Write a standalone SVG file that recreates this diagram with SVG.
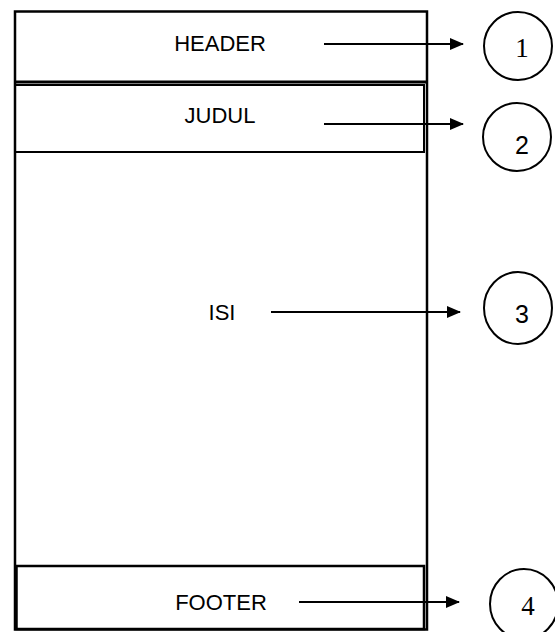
<svg xmlns="http://www.w3.org/2000/svg" width="555" height="632" viewBox="0 0 555 632">
<style>
.box{fill:none;stroke:#000}
.lbl{font-family:"Liberation Sans",Arial,sans-serif;font-size:22px;fill:#000;text-anchor:middle}
.ser{font-family:"Liberation Serif","Times New Roman",serif;font-size:27px;fill:#000;text-anchor:middle}
.san{font-family:"Liberation Sans",Arial,sans-serif;font-size:25px;fill:#000;text-anchor:middle}
.circ{fill:none;stroke:#000;stroke-width:2}
.conn{stroke:#000;stroke-width:2;fill:none;marker-end:url(#ah)}
</style>
<defs>
<marker id="ah" markerWidth="14" markerHeight="12" refX="13" refY="6" orient="auto" markerUnits="userSpaceOnUse">
<path d="M0,0 L14,6 L0,12 z" fill="#000"/>
</marker>
</defs>
<rect width="555" height="632" fill="#fff"/>
<g id="page">
<rect class="box" x="15" y="11.5" width="412" height="618" stroke-width="2.5"/>
</g>
<g id="header">
<line x1="15" y1="82" x2="427" y2="82" stroke="#000" stroke-width="3"/>
<text class="lbl" x="220" y="51">HEADER</text>
</g>
<g id="judul">
<rect class="box" x="15" y="85" width="409" height="67" stroke-width="2"/>
<text class="lbl" x="220" y="123">JUDUL</text>
</g>
<g id="isi">
<text class="lbl" x="222" y="320">ISI</text>
</g>
<g id="footer">
<rect class="box" x="16.5" y="566" width="407.5" height="63" stroke-width="2.5"/>
<text class="lbl" x="221" y="610">FOOTER</text>
</g>
<g id="n1"><ellipse class="circ" cx="518" cy="46" rx="34" ry="34"/><text class="ser" x="522" y="57">1</text></g>
<g id="n2"><ellipse class="circ" cx="517" cy="137" rx="34" ry="34"/><text class="san" x="522" y="154">2</text></g>
<g id="n3"><ellipse class="circ" cx="518" cy="308" rx="34" ry="36"/><text class="san" x="522" y="323">3</text></g>
<g id="n4"><ellipse class="circ" cx="524" cy="604" rx="34" ry="35"/><text class="ser" x="528" y="615">4</text></g>
<g id="connectors">
<line class="conn" x1="324" y1="44" x2="463" y2="44"/>
<line class="conn" x1="324" y1="124" x2="463" y2="124"/>
<line class="conn" x1="271" y1="312" x2="460" y2="312"/>
<line class="conn" x1="299" y1="602" x2="459" y2="602"/>
</g>
</svg>
